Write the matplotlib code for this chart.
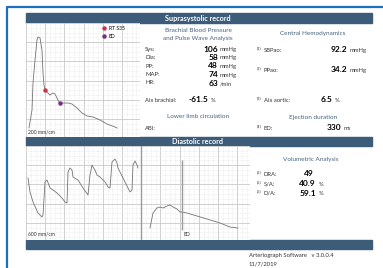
import matplotlib
matplotlib.use("Agg")
import matplotlib.pyplot as plt
import numpy as np
from matplotlib.patches import Rectangle

W, H = 383, 268

# suprasystolic pulse wave (x: px offset in panel, y: amplitude)
top_x = [3, 6, 7, 9, 11, 12, 14, 16, 17, 18, 19, 22, 24, 27, 29, 31, 33, 34,
         37, 42, 46, 51, 56, 61, 67, 74, 81, 89, 91]
top_y = [9, 27, 54, 77, 97, 100, 99, 87, 64, 52, 47, 44, 42, 44, 43, 39, 35, 34,
         34, 34, 33, 29, 24, 21, 20, 17, 13, 10, 9]
rt_idx = 10
ed_idx = 17

# diastolic record, left trace
dia_x = [2, 4, 7, 12, 16, 17, 19, 21, 24, 27, 31, 36, 39, 41, 42, 44, 46, 47, 52,
         57, 62, 64, 66, 67, 69, 71, 74, 79, 82, 84, 86, 89, 91, 92, 94, 97, 104,
         106, 107, 109, 111, 112]
dia_y = [62, 48, 38, 27, 23, 25, 58, 60, 52, 50, 47, 42, 38, 37, 68, 72, 70, 63,
         60, 52, 45, 65, 75, 73, 70, 65, 63, 58, 53, 52, 78, 81, 77, 72, 68, 62,
         48, 50, 75, 79, 75, 72]

# diastolic record, averaged beat
avg_x = [124, 126, 127, 131, 134, 137, 141, 144, 147, 151, 154, 156, 161, 171,
         181, 194, 204, 212]
avg_y = [12, 22, 27, 32, 33, 32, 34, 35, 33, 31, 28, 28, 27, 24, 21, 17, 13, 12]
avg_ed = 156

bp_labels = ["Sys:", "Dia:", "PP:", "MAP:", "HR:"]
bp_values = ["106", "58", "48", "74", "63"]
bp_units = ["mmHg", "mmHg", "mmHg", "mmHg", "/min"]
aix_brachial = "-61.5"

central_labels = ["SBPao:", "PPao:", "Aix aortic:", "ED:"]
central_refs = ["(1)", "(2)", "(3)", "(4)"]
central_values = ["92.2", "34.2", "6.5", "330"]
central_units = ["mmHg", "mmHg", "%", "ms"]

vol_labels = ["DRA:", "S/A:", "D/A:"]
vol_values = ["49", "40.9", "59.1"]
vol_units = ["", "%", "%"]

plt.rcParams["font.family"] = ["Lato", "DejaVu Sans"]

BAR = "#3d5c79"
HEAD = "#46627f"
LINE = "#737373"

fig = plt.figure(figsize=(W / 100, H / 100), dpi=100)


def px_axes(x0, y0, x1, y1):
    return fig.add_axes([x0 / W, 1 - y1 / H, (x1 - x0) / W, (y1 - y0) / H])


def grid_panel(ax, w, h):
    ax.set_xlim(0, w)
    ax.set_ylim(0, h)
    ax.set_xticks(np.arange(0, w, 19.2))
    ax.set_yticks(np.arange(h, 0, -19.2))
    ax.set_xticks(np.arange(0, w, 4.8), minor=True)
    ax.set_yticks(np.arange(h, 0, -4.8), minor=True)
    ax.grid(which="major", color="#c9c9c9", lw=0.6)
    ax.grid(which="minor", color="#e2e2e2", lw=0.5, ls=(0, (1, 1.5)))
    ax.tick_params(which="both", length=0, labelbottom=False, labelleft=False)
    for s in ax.spines.values():
        s.set_visible(False)


# overlay for frame, bars and text
ov = fig.add_axes([0, 0, 1, 1])
ov.set_xlim(0, W)
ov.set_ylim(H, 0)
ov.axis("off")
ov.plot([7, 7, W], [H, 7, 7], color="#1a6fc0", lw=1.6, solid_capstyle="butt")
for y0, y1, title in [(13, 23, "Suprasystolic record"),
                      (137, 146, "Diastolic record"),
                      (240, 249, "")]:
    ov.add_patch(Rectangle((26, y0), 346, y1 - y0, color=BAR))
    if title:
        ov.text(198, (y0 + y1) / 2 + 0.5, title, color="white", fontsize=5.2,
                fontweight="bold", ha="center", va="center")

# top waveform
ax1 = px_axes(26, 23, 140, 137)
grid_panel(ax1, 114, 114)
ax1.plot(top_x, top_y, color=LINE, lw=0.6)
ax1.plot(top_x[rt_idx], top_y[rt_idx], "o", color="#d0304a", ms=2.2, label="RT S35")
ax1.plot(top_x[ed_idx], top_y[ed_idx], "o", color="#7a2a8a", ms=2.2, label="ED")
ax1.legend(loc="upper right", fontsize=3.6, frameon=False, handlelength=0.6,
           handletextpad=0.6, labelspacing=0.6, borderaxespad=0.2,
           bbox_to_anchor=(0.89, 1.0))
ax1.text(2, 3, "200 mm/cm", fontsize=3.6, color="#333333")

# bottom waveform
ax2 = px_axes(26, 146, 250, 240)
grid_panel(ax2, 224, 94)
ax2.axvline(115, color="#9a9a9a", lw=1.0)
ax2.plot(dia_x, dia_y, color=LINE, lw=0.6)
ax2.plot(avg_x, avg_y, color=LINE, lw=0.6)
ax2.vlines(avg_ed, 10, 80, color="#9a9a9a", lw=1.0)
ax2.text(avg_ed + 2, 4, "ED", fontsize=3.6, color="#333333")
ax2.text(2, 4, "600 mm/cm", fontsize=3.6, color="#333333")

# brachial column
ov.text(198, 30, "Brachial Blood Pressure", fontsize=4.6, color=HEAD,
        ha="center", va="center")
ov.text(198, 38.5, "and Pulse Wave Analysis", fontsize=4.6, color=HEAD,
        ha="center", va="center")
for i, (lab, val, unit) in enumerate(zip(bp_labels, bp_values, bp_units)):
    y = 49 + i * 8.5
    ov.text(145, y, lab, fontsize=4.2, color="#333333", va="center")
    ov.text(218, y, val, fontsize=6, fontweight="bold", ha="right", va="center")
    ov.text(220, y + 0.5, unit, fontsize=4.2, color="#333333", va="center")
ov.text(145, 100, "Aix brachial:", fontsize=4.2, color="#333333", va="center")
ov.text(208, 100, aix_brachial, fontsize=6, fontweight="bold", ha="right", va="center")
ov.text(211, 100.5, "%", fontsize=4.2, color="#333333", va="center")
ov.text(198, 117, "Lower limb circulation", fontsize=4.6, color=HEAD,
        ha="center", va="center")
ov.text(145, 128, "ABI:", fontsize=4.2, color="#333333", va="center")

# central column
ov.text(313, 33, "Central Hemodynamics", fontsize=4.6, color=HEAD,
        ha="center", va="center")
ov.text(313, 117, "Ejection duration", fontsize=4.6, color=HEAD,
        ha="center", va="center")
rows_y = [50, 70, 100, 128]
val_x = [347, 347, 332, 341]
for lab, ref, val, unit, y, vx in zip(central_labels, central_refs,
                                      central_values, central_units, rows_y, val_x):
    ov.text(257, y - 1.5, ref, fontsize=3, color="#333333", va="center")
    ov.text(264, y, lab, fontsize=4.2, color="#333333", va="center")
    ov.text(vx, y, val, fontsize=6, fontweight="bold", ha="right", va="center")
    ov.text(vx + 2.5, y + 0.5, unit, fontsize=4.2, color="#333333", va="center")

# volumetric column
ov.text(311, 159, "Volumetric Analysis", fontsize=4.6, color=HEAD,
        ha="center", va="center")
for i, (lab, val, unit) in enumerate(zip(vol_labels, vol_values, vol_units)):
    y = 174 + i * 9.5
    ov.text(257, y - 1.5, "(5)", fontsize=3, color="#333333", va="center")
    ov.text(264, y, lab, fontsize=4.2, color="#333333", va="center")
    if unit:
        ov.text(316, y, val, fontsize=6, fontweight="bold", ha="right", va="center")
        ov.text(319, y + 0.5, unit, fontsize=4.2, color="#333333", va="center")
    else:
        ov.text(309, y, val, fontsize=6, fontweight="bold", ha="center", va="center")

ov.text(249, 256, "Arteriograph Software   v 3.0.0.4", fontsize=4.2,
        color="#333333", va="center")
ov.text(249, 264, "11/7/2019", fontsize=4.2, color="#333333", va="center")

fig.savefig("out.png", dpi=100)
